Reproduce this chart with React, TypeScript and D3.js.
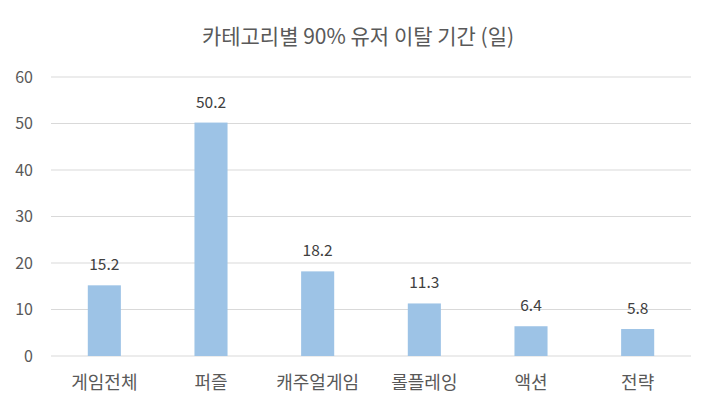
import * as d3 from 'd3';
import React from 'react';

const categories = ['게임전체', '퍼즐', '캐주얼게임', '롤플레잉', '액션', '전략'];
const values = [15.2, 50.2, 18.2, 11.3, 6.4, 5.8];
const yTicks = [0, 10, 20, 30, 40, 50, 60];
const title = '카테고리별 90% 유저 이탈 기간 (일)';

const width = 711;
const height = 410;
const margin = { top: 77, right: 20, bottom: 54, left: 51 };
const font = "'Noto Sans CJK KR', 'Noto Sans', sans-serif";

function App() {
  const x = d3.scaleBand<string>()
    .domain(categories)
    .range([margin.left, width - margin.right])
    .paddingInner(0.69)
    .paddingOuter(0.345);

  const y = d3.scaleLinear()
    .domain([0, 60])
    .range([height - margin.bottom, margin.top]);

  return (
    <svg width={width} height={height} style={{ position: 'absolute', left: 0, top: 0, background: '#fff' }}
      fontFamily={font}>
      <text x={358} y={44} textAnchor="middle" fontSize={21} fill="#595959">{title}</text>

      {/* gridlines and tick labels */}
      {yTicks.map(t => (
        <g key={t}>
          <line x1={margin.left} x2={width - margin.right} y1={y(t)} y2={y(t)}
            stroke="#d9d9d9" strokeWidth={1} />
          <text x={33} y={y(t)} dy="0.35em" textAnchor="end" fontSize={16} fill="#595959">{t}</text>
        </g>
      ))}

      {/* bars */}
      {categories.map((c, i) => (
        <g key={c}>
          <rect x={x(c)} y={y(values[i])} width={x.bandwidth()} height={y(0) - y(values[i])} fill="#9dc3e6" />
          <text x={(x(c) as number) + x.bandwidth() / 2} y={y(values[i]) - 15} textAnchor="middle"
            fontSize={15.5} fill="#404040">{values[i].toFixed(1)}</text>
          <text x={(x(c) as number) + x.bandwidth() / 2} y={y(0) + 33} textAnchor="middle"
            fontSize={18} fill="#595959">{c}</text>
        </g>
      ))}
    </svg>
  );
}

export default App;
